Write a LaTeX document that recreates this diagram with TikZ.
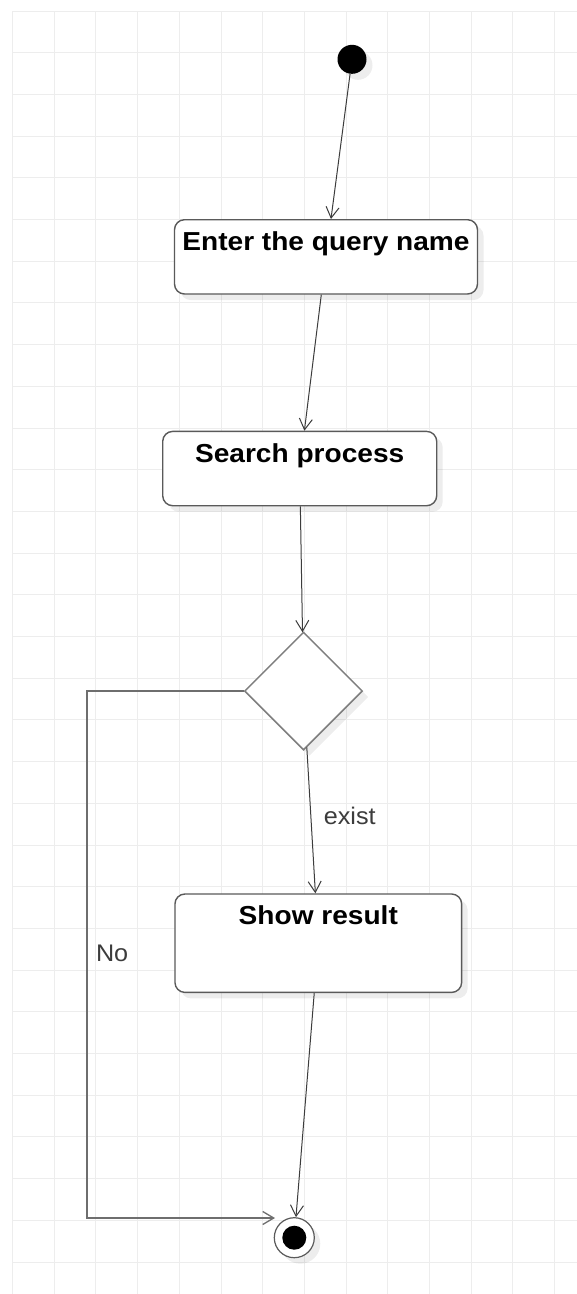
\documentclass[tikz,border=0pt]{standalone}
\usepackage{fontspec}
\setmainfont{Liberation Sans}
\newfontfamily\boxfont[FakeStretch=1.08]{Liberation Sans}
\newfontfamily\lblfont[FakeStretch=1.05]{Liberation Sans}
\usetikzlibrary{shapes.geometric, arrows.meta, shadows}

\definecolor{gridgray}{HTML}{EDEDED}
\definecolor{edgegray}{HTML}{5A5A5A}
\definecolor{diagray}{HTML}{7E7E7E}
\definecolor{linegray}{HTML}{3C3C3C}
\definecolor{nogray}{HTML}{6E6E6E}

\tikzset{
  gridline/.style={draw=gridgray, line width=1pt},
  softshadow/.style={drop shadow={shadow xshift=6pt, shadow yshift=-6pt, fill=black, opacity=0.07}},
  actbox/.style={rectangle, rounded corners=10pt, draw=edgegray, line width=1.4pt,
    fill=white, inner sep=0pt, anchor=north, softshadow,
    font=\boxfont\bfseries\fontsize{26}{30}\selectfont},
  startdot/.style={circle, fill=black, minimum size=29pt, inner sep=0pt, softshadow},
  endring/.style={circle, draw=edgegray, line width=1.2pt, fill=white, minimum size=40pt, inner sep=0pt, softshadow},
  enddot/.style={circle, fill=black, minimum size=24pt, inner sep=0pt},
  choice/.style={diamond, draw=diagray, line width=1.5pt, fill=white, minimum width=118pt,
    minimum height=118pt, inner sep=0pt, softshadow},
  flow/.style={draw=linegray, line width=1pt, -{Straight Barb[length=11pt, width=13pt]}},
  noflow/.style={draw=nogray, line width=2pt, -{Straight Barb[length=11pt, width=13pt, line width=1.3pt]}},
  lbl/.style={inner sep=0pt, text=linegray, font=\lblfont\fontsize{24}{28}\selectfont},
}

\begin{document}
\begin{tikzpicture}[x=1pt, y=-1pt]
  \useasboundingbox (0,0) rectangle (577,1294);
  \fill[white] (0,0) rectangle (577,1294);

  % background grid
  \foreach \i in {0,...,13}
    \draw[gridline] ({12.5+41.7*\i},11) -- ({12.5+41.7*\i},1294);
  \foreach \j in {0,...,30}
    \draw[gridline] (12.5,{11+41.7*\j}) -- (577,{11+41.7*\j});

  % nodes
  \node[startdot] (start) at (352,59.3) {};
  \node[actbox, minimum width=303pt, text height=31pt, text depth=43.3pt] (enter) at (326,219) {Enter the query name};
  \node[actbox, minimum width=274pt, text height=31pt, text depth=43.3pt] (search) at (299.7,430.7) {Search process};
  \node[choice] (dec) at (303.5,691) {};
  \node[actbox, minimum width=286.7pt, text height=30.7pt, text depth=67.7pt] (show) at (318.3,893.3) {Show result};
  \node[endring] (fin) at (294.3,1237.7) {};
  \node[enddot] (findot) at (fin.center) {};

  \coordinate (nocorner) at (87,691);
  \coordinate (noend) at (275,1218);

  % connectors
  \draw[flow] (start) -- (enter);
  \draw[flow] (enter) -- (search);
  \draw[flow] (search) -- (dec);
  \draw[flow] (dec) -- node[lbl, pos=0.53, anchor=base west, xshift=12pt] {exist} (show);
  \draw[flow] (show) -- (fin);
  \draw[noflow] (dec.west) -- (nocorner) |- node[lbl, pos=0.2565, anchor=base west, xshift=8pt] {No} (noend);
\end{tikzpicture}
\end{document}
